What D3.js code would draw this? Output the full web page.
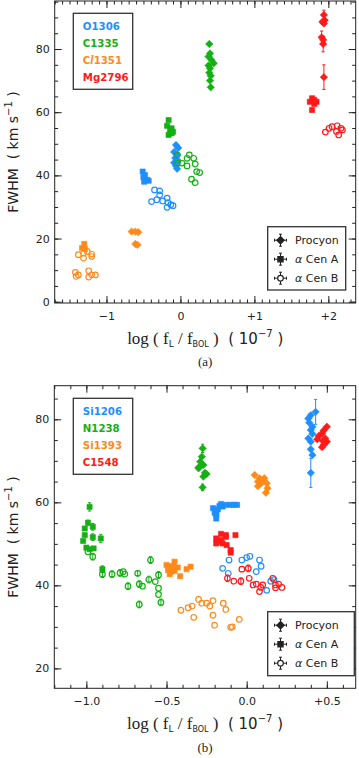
<!DOCTYPE html>
<html>
<head>
<meta charset="utf-8">
<script src="https://cdn.jsdelivr.net/npm/d3@7"></script>
<style>
  body { margin: 0; background: #fff; }
  svg { display: block; }
  text { white-space: pre; }
</style>
</head>
<body>
<div id="chart"></div>
<script>
// ---------- shared ----------
var stars = ["Procyon", "α Cen A", "α Cen B"];
var colors = ["#1e8fff", "#14b014", "#ff8a1a", "#ff1a1a"];

// ---------- panel (a) ----------
var ionsA = ["O1306", "C1335", "Cl1351", "Mg2796"];
var xTicksA = [-1, 0, 1, 2];
var xLabelsA = ["\u22121", "0", "+1", "+2"];
var yTicksA = [0, 20, 40, 60, 80];

// points are [log(fL/fBOL), FWHM, error]
var O1306_procyon = [[-0.06,49.6],[-0.03,48.7],[-0.085,47.4],[-0.045,46.5],[-0.07,45.5],[-0.03,44.6],[-0.085,44.0],[-0.06,43.0],[-0.045,42.1]];
var O1306_cenA = [[-0.51,41.2],[-0.48,40.1],[-0.50,39.4],[-0.45,38.6],[-0.43,38.3],[-0.49,38.0]];
var O1306_cenB = [[-0.35,35.4],[-0.28,35.1],[-0.28,33.8],[-0.39,31.7],[-0.32,32.3],[-0.24,31.9],[-0.18,32.8],[-0.17,31.4],[-0.13,30.7],[-0.18,29.9],[-0.10,30.4]];
var C1335_procyon = [[0.39,81.6],[0.40,78.6],[0.38,77.6],[0.42,76.5],[0.45,75.5],[0.38,74.8],[0.40,73.9],[0.39,72.5],[0.41,71.5],[0.40,70.0],[0.41,67.9]];
var C1335_cenA = [[-0.16,57.5],[-0.18,55.7],[-0.12,54.9],[-0.14,54.1],[-0.10,53.8],[-0.16,52.8],[-0.12,53.3]];
var C1335_cenB = [[-0.04,46.5],[0.02,43.9],[-0.04,43.9],[0.09,45.4],[0.12,46.5],[0.18,45.4],[0.09,43.0],[0.20,43.6],[0.22,41.2],[0.26,40.9],[0.15,38.8],[0.20,37.7]];
var Cl1351_procyon = [[-0.66,22.2],[-0.61,22.2],[-0.57,22.0],[-0.61,18.3],[-0.58,18.0]];
var Cl1351_cenA = [[-1.30,18.3],[-1.33,17.0],[-1.29,16.7]];
var Cl1351_cenB = [[-1.38,14.9],[-1.31,15.4],[-1.31,13.8],[-1.26,15.9],[-1.20,15.1],[-1.20,14.3],[-1.42,9.3],[-1.38,8.5],[-1.41,8.0],[-1.24,9.8],[-1.24,7.8],[-1.20,8.5],[-1.15,8.5]];
var Mg2796_procyon = [[1.94,90.8,1.5],[1.95,89.1],[1.92,88.6],[1.94,88.1],[1.91,83.7,2],[1.93,82.9],[1.93,81.6,2.5],[1.94,71.1,3.9]];
var Mg2796_cenA = [[1.78,64.4],[1.81,63.9],[1.84,63.3],[1.75,63.3],[1.81,62.6],[1.78,60.7]];
var Mg2796_cenB = [[1.96,53.7],[2.01,54.9],[2.05,55.4],[2.12,55.7],[2.17,54.9],[2.19,54.4],[2.11,53.9],[2.14,52.8]];

// ---------- panel (b) ----------
var ionsB = ["Si1206", "N1238", "Si1393", "C1548"];
var xTicksB = [-1, -0.5, 0, 0.5];
var xLabelsB = ["\u22121.0", "\u22120.5", "0.0", "+0.5"];
var yTicksB = [20, 40, 60, 80];

var Si1206_procyon = [[0.43,81.8,3],[0.40,81.0],[0.385,80.2],[0.39,79.2],[0.41,78.2],[0.40,77.4],[0.41,76.5],[0.385,75.4],[0.40,74.6],[0.40,72.8],[0.41,71.4],[0.40,67.1,3.5]];
var Si1206_cenA = [[-0.21,58.6],[-0.20,57.5],[-0.19,57.0],[-0.18,58.3],[-0.17,59.1],[-0.16,59.6],[-0.15,59.0],[-0.13,59.4],[-0.10,59.4],[-0.08,59.4],[-0.06,59.4],[-0.19,56.1],[-0.19,57.3]];
var Si1206_cenB = [[-0.11,46.1],[-0.03,46.1],[0.0,46.7],[0.02,47.0],[0.08,46.1],[0.09,44.6],[-0.15,44.1],[0.06,43.3],[0.15,41.0],[0.17,41.4],[0.125,38.8],[-0.115,42.9]];
var N1238_procyon = [[-0.275,73.0,1],[-0.28,71.0],[-0.29,69.8],[-0.30,68.4],[-0.27,69.0],[-0.26,67.1],[-0.25,66.8],[-0.27,66.2],[-0.275,63.6,0.8],[-0.30,68.2]];
var N1238_cenA = [[-0.98,58.9,1],[-0.99,55.1,0.6],[-1.01,53.7],[-0.96,54.1,0.8],[-1.01,52.1],[-1.02,50.7],[-0.96,51.6,0.8],[-0.91,51.3,1],[-1.0,49.1],[-0.98,48.7],[-0.955,48.9],[-0.90,43.9,0.8]];
var N1238_cenB = [[-0.99,48.1],[-0.96,46.9,0.8],[-0.90,42.7,0.8],[-0.84,42.7,0.8],[-0.79,43.0,0.8],[-0.77,43.3],[-0.76,42.7],[-0.74,39.8,0.8],[-0.68,42.9,0.6],[-0.67,40.3,0.8],[-0.65,39.8],[-0.61,41.4,0.8],[-0.60,46.1,0.8],[-0.57,40.9],[-0.55,42.5,0.8],[-0.55,39.3],[-0.55,37.8],[-0.535,35.9,0.8],[-0.67,35.4,0.8]];
var Si1393_procyon = [[0.05,66.6],[0.08,65.8],[0.07,65.0],[0.10,65.4],[0.11,65.8],[0.09,64.6],[0.07,63.9],[0.125,64.6],[0.13,63.4],[0.12,62.3]];
var Si1393_cenA = [[-0.50,44.9],[-0.48,44.6],[-0.45,45.7],[-0.46,44.5],[-0.43,44.3],[-0.49,43.7],[-0.47,43.3],[-0.45,43.5],[-0.415,42.2],[-0.375,43.9],[-0.35,44.5],[-0.48,42.7]];
var Si1393_cenB = [[-0.41,34.0],[-0.365,34.6],[-0.34,35.0],[-0.30,36.6],[-0.28,35.7],[-0.25,35.7],[-0.33,32.3],[-0.23,35.0],[-0.21,36.3],[-0.21,32.8],[-0.20,30.4],[-0.146,35.7],[-0.13,34.2],[-0.10,29.9],[-0.09,30.0],[-0.046,31.8]];
var C1548_procyon = [[0.50,78.2],[0.48,77.3],[0.47,76.6],[0.45,76.0],[0.49,75.4],[0.475,74.8],[0.44,75.2],[0.50,74.6],[0.48,73.8],[0.47,73.3]];
var C1548_cenA = [[-0.16,52.4],[-0.13,52.1],[-0.19,51.3],[-0.16,50.9],[-0.13,51.7],[-0.07,52.1],[-0.17,50.5],[-0.15,50.1],[-0.125,49.7],[-0.10,48.5],[-0.10,47.9],[-0.19,50.1]];
var C1548_cenB = [[-0.03,43.9],[0.01,44.1,0.8],[-0.12,41.7,0.8],[-0.08,41.0],[-0.036,41.0,0.8],[0.016,41.7],[0.04,40.1],[0.06,40.3],[0.0875,39.5],[0.08,38.5],[0.10,40.1],[0.1625,41.7],[0.18,40.1],[0.20,40.3],[0.22,39.5],[0.18,39.4]];

var W = 359, H = 758;
var svg = d3.select("#chart").append("svg")
  .attr("width", W)
  .attr("height", H);

var ink = "#222";
var sansFont = "DejaVu Sans, sans-serif";
var serifFont = "Liberation Serif, Times New Roman, serif";

// marker path for one star (0 diamond, 1 square, 2 circle)
function markerPath(k, cx, cy) {
  if (k == 0) {
    var r = 3.7;
    return "M" + cx + "," + (cy - r) + "L" + (cx + r) + "," + cy + "L" + cx + "," + (cy + r) + "L" + (cx - r) + "," + cy + "Z";
  }
  if (k == 1) {
    var s = 2.6;
    return "M" + (cx - s) + "," + (cy - s) + "h" + 2 * s + "v" + 2 * s + "h" + -2 * s + "Z";
  }
  var c = 2.8;
  return "M" + (cx - c) + "," + cy + "a" + c + "," + c + " 0 1,0 " + 2 * c + ",0a" + c + "," + c + " 0 1,0 " + -2 * c + ",0";
}

function minorTicks(domain, step) {
  var out = [];
  var start = Math.ceil(domain[0] / step - 1e-6);
  for (var i = start; i * step <= domain[1] + 1e-9; i++) out.push(+(i * step).toFixed(4));
  return out;
}

function drawPanel(p) {
  var x = d3.scaleLinear().domain(p.xDomain).range([p.left, p.right]);
  var y = d3.scaleLinear().domain(p.yDomain).range([p.bottom, p.top]);
  var g = svg.append("g");

  // axes on all four sides, ticks pointing in
  var xMinor = minorTicks(p.xDomain, 0.1);
  var yMinor = minorTicks(p.yDomain, 5);
  function styleAxis(sel) {
    sel.select(".domain").remove();
    sel.selectAll("line").attr("stroke", ink);
    sel.selectAll("text").attr("font-family", sansFont).attr("font-size", 11).attr("fill", ink);
  }
  g.append("g").attr("transform", "translate(0," + p.bottom + ")")
    .call(d3.axisBottom(x).tickValues(xMinor).tickSize(-3.5).tickFormat("")).call(styleAxis);
  g.append("g").attr("transform", "translate(0," + p.bottom + ")")
    .call(d3.axisBottom(x).tickValues(p.xTicks).tickSize(-7).tickPadding(9)
      .tickFormat(function(d, i) { return p.xLabels[i]; })).call(styleAxis);
  g.append("g").attr("transform", "translate(0," + p.top + ")")
    .call(d3.axisTop(x).tickValues(xMinor).tickSize(-3.5).tickFormat("")).call(styleAxis);
  g.append("g").attr("transform", "translate(0," + p.top + ")")
    .call(d3.axisTop(x).tickValues(p.xTicks).tickSize(-7).tickFormat("")).call(styleAxis);
  g.append("g").attr("transform", "translate(" + p.left + ",0)")
    .call(d3.axisLeft(y).tickValues(yMinor).tickSize(-3.5).tickFormat("")).call(styleAxis);
  g.append("g").attr("transform", "translate(" + p.left + ",0)")
    .call(d3.axisLeft(y).tickValues(p.yTicks).tickSize(-7).tickPadding(5).tickFormat(d3.format("d"))).call(styleAxis);
  g.append("g").attr("transform", "translate(" + p.right + ",0)")
    .call(d3.axisRight(y).tickValues(yMinor).tickSize(-3.5).tickFormat("")).call(styleAxis);
  g.append("g").attr("transform", "translate(" + p.right + ",0)")
    .call(d3.axisRight(y).tickValues(p.yTicks).tickSize(-7).tickFormat("")).call(styleAxis);

  // frame
  g.append("rect")
    .attr("x", p.left).attr("y", p.top)
    .attr("width", p.right - p.left).attr("height", p.bottom - p.top)
    .attr("fill", "none").attr("stroke", ink).attr("stroke-width", 1);

  // the points, one group per ion and star
  p.series.forEach(function(ion, i) {
    ion.forEach(function(pts, k) {
      var sg = g.append("g");
      // error bars first
      var withErr = pts.filter(function(d) { return d[2]; });
      sg.selectAll("path.err").data(withErr).enter().append("path")
        .attr("class", "err")
        .attr("d", function(d) {
          var cx = x(d[0]), y0 = y(d[1] - d[2]), y1 = y(d[1] + d[2]);
          return "M" + cx + "," + y0 + "V" + y1 + "M" + (cx - 1.6) + "," + y0 + "h3.2M" + (cx - 1.6) + "," + y1 + "h3.2";
        })
        .attr("stroke", colors[i]).attr("stroke-width", 1).attr("fill", "none");
      sg.selectAll("path.pt").data(pts).enter().append("path")
        .attr("class", "pt")
        .attr("d", function(d) { return markerPath(k, x(d[0]), y(d[1])); })
        .attr("fill", k == 2 ? "none" : colors[i])
        .attr("stroke", colors[i])
        .attr("stroke-width", k == 2 ? 1.2 : 0.6);
    });
  });

  // ion legend, top left
  var lg = g.append("g");
  lg.append("rect")
    .attr("x", p.ionBox[0]).attr("y", p.ionBox[1])
    .attr("width", p.ionBox[2]).attr("height", p.ionBox[3])
    .attr("fill", "#fff").attr("stroke", "#333").attr("stroke-width", 1.3);
  p.ions.forEach(function(name, i) {
    var t = lg.append("text")
      .attr("x", p.ionBox[0] + 9.5)
      .attr("y", p.ionBox[1] + 16.5 + i * 17)
      .attr("font-family", sansFont).attr("font-size", 10.2).attr("font-weight", "bold")
      .attr("fill", colors[i]);
    if (name == "Cl1351") {
      t.append("tspan").text("C");
      t.append("tspan").attr("font-style", "italic").attr("font-family", serifFont).attr("font-size", 12).text("l");
      t.append("tspan").text("1351");
    } else {
      t.text(name);
    }
  });

  // star legend, bottom right
  var sl = g.append("g");
  sl.append("rect")
    .attr("x", p.starBox[0]).attr("y", p.starBox[1])
    .attr("width", p.starBox[2]).attr("height", p.starBox[3])
    .attr("fill", "#fff").attr("stroke", "#333").attr("stroke-width", 1.3);
  stars.forEach(function(name, k) {
    var cx = p.starBox[0] + 12.8, cy = p.starBox[1] + 13.5 + k * 19;
    sl.append("path")
      .attr("d", "M" + (cx - 6) + "," + cy + "H" + (cx + 6) + "M" + cx + "," + (cy - 6) + "V" + (cy + 6) +
        "M" + (cx - 6) + "," + (cy - 1.5) + "v3M" + (cx + 6) + "," + (cy - 1.5) + "v3" +
        "M" + (cx - 1.5) + "," + (cy - 6) + "h3M" + (cx - 1.5) + "," + (cy + 6) + "h3")
      .attr("stroke", ink).attr("stroke-width", 1).attr("fill", "none");
    sl.append("path")
      .attr("d", markerPath(k, cx, cy))
      .attr("fill", k == 2 ? "#fff" : ink)
      .attr("stroke", ink).attr("stroke-width", 1.2);
    var t = sl.append("text")
      .attr("x", cx + 14.5).attr("y", cy + 4)
      .attr("font-family", sansFont).attr("font-size", 11).attr("fill", ink);
    if (k == 0) {
      t.text(name);
    } else {
      t.append("tspan").attr("font-style", "italic").text("α");
      t.append("tspan").text(name.slice(1));
    }
  });

  // y label
  var midY = (p.top + p.bottom) / 2;
  var yl = svg.append("text")
    .attr("transform", "translate(18," + midY + ") rotate(-90)")
    .attr("text-anchor", "middle")
    .attr("font-family", sansFont).attr("font-size", 14).attr("fill", ink);
  yl.append("tspan").text("FWHM  ( km s");
  yl.append("tspan").attr("dy", -6).attr("font-size", 10).text("\u22121");
  yl.append("tspan").attr("dy", 6).text(" )");

  // x label
  var midX = (p.left + p.right) / 2;
  var xl = svg.append("text")
    .attr("x", midX).attr("y", p.xLabelY)
    .attr("text-anchor", "middle").attr("fill", ink);
  xl.append("tspan").attr("font-family", serifFont).attr("font-size", 17).text("log ( f");
  xl.append("tspan").attr("font-family", sansFont).attr("font-size", 9).attr("dy", 3).text("L");
  xl.append("tspan").attr("font-family", serifFont).attr("font-size", 17).attr("dy", -3).text(" / f");
  xl.append("tspan").attr("font-family", sansFont).attr("font-size", 8).attr("dy", 3).text("BOL");
  xl.append("tspan").attr("font-family", serifFont).attr("font-size", 17).attr("dy", -3).text(" )");
  xl.append("tspan").attr("font-family", sansFont).attr("font-size", 15).text("  ( 10");
  xl.append("tspan").attr("font-family", sansFont).attr("font-size", 10).attr("dy", -7).text("\u22127");
  xl.append("tspan").attr("font-family", sansFont).attr("font-size", 15).attr("dy", 7).text(" )");

  // panel tag
  svg.append("text")
    .attr("x", midX).attr("y", p.tagY)
    .attr("text-anchor", "middle")
    .attr("font-family", serifFont).attr("font-size", 13).attr("fill", ink)
    .text(p.tag);
}

drawPanel({
  left: 54.7, right: 355.7, top: 1, bottom: 303,
  xDomain: [-1.7, 2.37], yDomain: [-0.4, 95.2],
  xTicks: xTicksA, xLabels: xLabelsA, yTicks: yTicksA,
  ions: ionsA,
  series: [
    [O1306_procyon, O1306_cenA, O1306_cenB],
    [C1335_procyon, C1335_cenA, C1335_cenB],
    [Cl1351_procyon, Cl1351_cenA, Cl1351_cenB],
    [Mg2796_procyon, Mg2796_cenA, Mg2796_cenB]
  ],
  ionBox: [73.3, 13.3, 59.4, 76],
  starBox: [267.7, 226.7, 78, 63.3],
  xLabelY: 344, tagY: 366, tag: "(a)"
});

drawPanel({
  left: 54.3, right: 355.7, top: 385.7, bottom: 688.3,
  xDomain: [-1.2, 0.68], yDomain: [15.2, 88.1],
  xTicks: xTicksB, xLabels: xLabelsB, yTicks: yTicksB,
  ions: ionsB,
  series: [
    [Si1206_procyon, Si1206_cenA, Si1206_cenB],
    [N1238_procyon, N1238_cenA, N1238_cenB],
    [Si1393_procyon, Si1393_cenA, Si1393_cenB],
    [C1548_procyon, C1548_cenA, C1548_cenB]
  ],
  ionBox: [73.3, 398.3, 59.4, 76],
  starBox: [267.7, 611.7, 86.6, 64],
  xLabelY: 729, tagY: 752, tag: "(b)"
});
</script>
</body>
</html>
